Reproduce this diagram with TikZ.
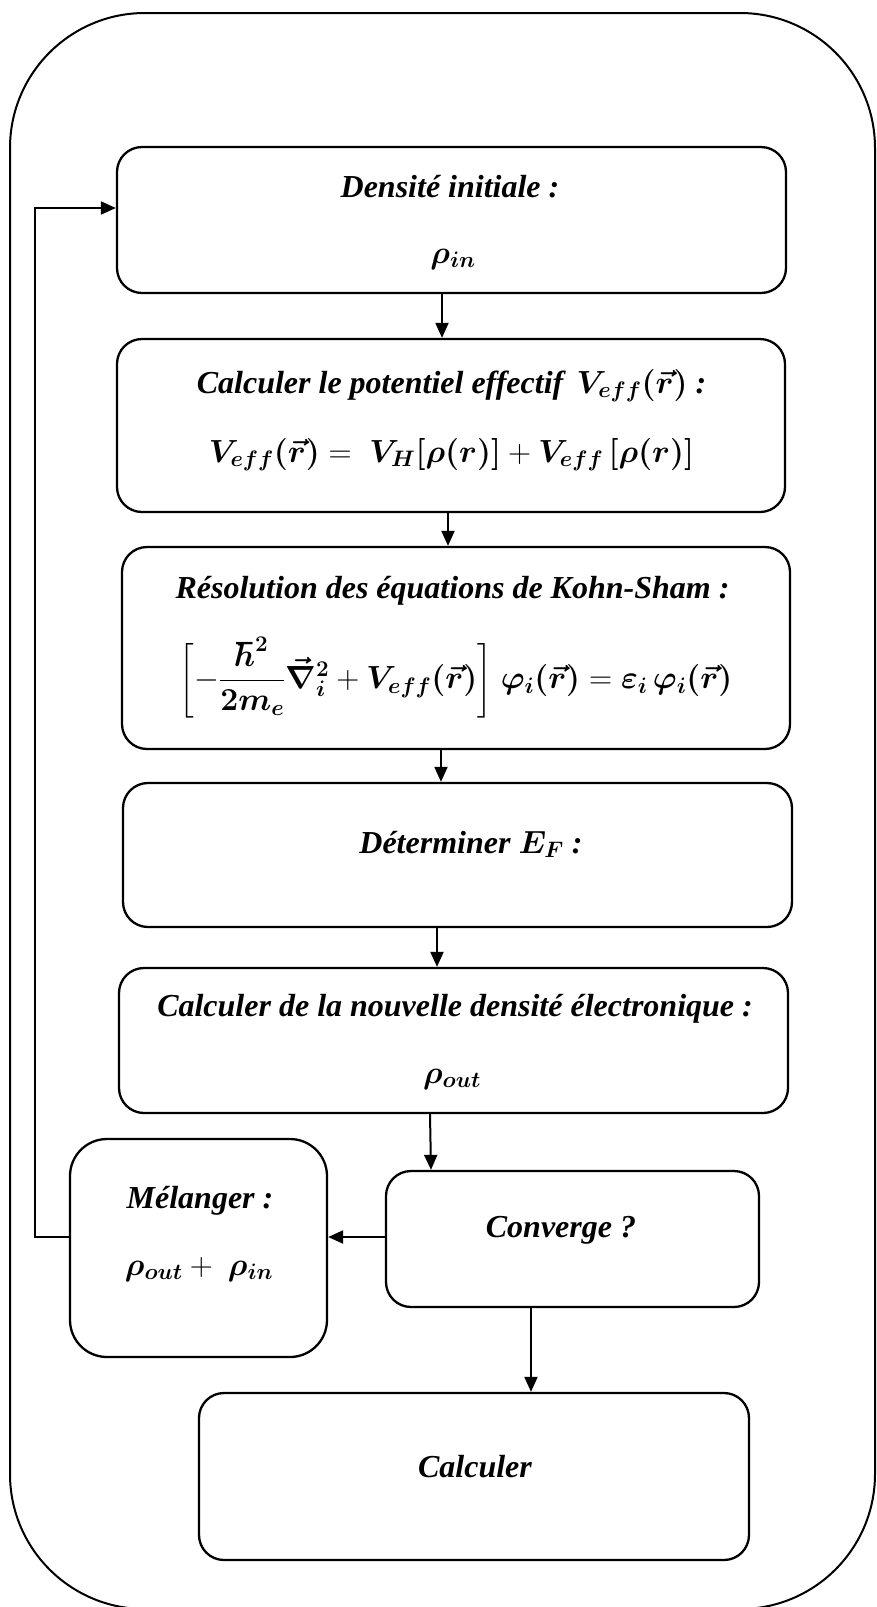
\RequirePackage{fix-cm}
\documentclass[tikz,border=0pt]{standalone}
\usepackage{amsmath}
\usepackage{bm}
\usepackage{fontspec}
\setmainfont{Liberation Serif}
\usetikzlibrary{arrows.meta}
\tikzset{
  box/.style={draw, line width=2.3pt, rounded corners=25pt, inner sep=0pt},
  lbl/.style={anchor=base, inner sep=0pt, font=\fontsize{32}{38}\selectfont\bfseries\itshape},
  arr/.style={line width=2pt, -{Triangle[length=15pt,width=13pt]}},
  frame/.style={draw, line width=2pt, rounded corners=135pt},
}
\begin{document}
\begin{tikzpicture}[x=1pt,y=-1pt]
\useasboundingbox (0,0) rectangle (877,1607);
\draw[frame] (10,13) rectangle (875,1609);

% boxes
\node[box, minimum width=669pt, minimum height=146pt] (b1) at (451.5,220) {};
\node[box, minimum width=668pt, minimum height=173pt] (b2) at (451,425.5) {};
\node[box, minimum width=668pt, minimum height=202pt] (b3) at (456,648) {};
\node[box, minimum width=669pt, minimum height=144pt] (b4) at (457.5,855) {};
\node[box, minimum width=669pt, minimum height=145pt] (b5) at (453.5,1040.5) {};
\node[box, minimum width=373pt, minimum height=136pt] (conv) at (572.5,1239) {};
\node[box, rounded corners=37pt, minimum width=257pt, minimum height=218pt] (mel) at (198.5,1248) {};
\node[box, minimum width=550pt, minimum height=167pt] (calc) at (474,1476.5) {};

% texts
\node[lbl] (t1a) at (450,197) {Densité initiale :};
\node[lbl] (t1b) at (453,263) {$\bm{\rho_{in}}$};
\node[lbl] (t2a) at (451.5,393) {Calculer le potentiel effectif \,$\bm{V_{eff}(\vec{r})}$ :};
\node[lbl] (t2b) at (451.5,462) {$\bm{V_{eff}(\vec{r})} =\; \bm{V_H[\rho(r)]} + \bm{V_{eff}\,[\rho(r)]}$};
\node[lbl] (t3a) at (452.5,598) {Résolution des équations de Kohn-Sham :};
\node[lbl, anchor=center] (t3b) at (456,678) {$\biggl[-\dfrac{\bm{\hbar^2}}{\bm{2m_e}}\bm{\vec{\nabla}_i^2} + \bm{V_{eff}(\vec{r})}\biggr]\;\bm{\varphi_i(\vec{r})} = \bm{\varepsilon_i\,\varphi_i(\vec{r})}$};
\node[lbl] (t4) at (471,853) {Déterminer $\bm{E_F}$ :};
\node[lbl] (t5a) at (455,1016) {Calculer de la nouvelle densité électronique :};
\node[lbl] (t5b) at (452,1083) {$\bm{\rho_{out}}$};
\node[lbl] (tm1) at (200,1208) {Mélanger :};
\node[lbl] (tm2) at (199,1275) {$\bm{\rho_{out}} +\ \bm{\rho_{in}}$};
\node[lbl] (tc) at (561,1237) {Converge ?};
\node[lbl] (tk) at (475,1477) {Calculer};

% connectors
\draw[arr] (b1.south -| 442,0) -- (b2.north -| 442,0);
\draw[arr] (b2.south -| 448,0) -- (b3.north -| 448,0);
\draw[arr] (b3.south -| 441,0) -- (b4.north -| 441,0);
\draw[arr] (b4.south -| 437,0) -- (b5.north -| 437,0);
\draw[arr] (b5.south -| 430,0) -- (conv.north -| 431,0);
\draw[arr] (conv.west |- 0,1237) -- (mel.east |- 0,1237);
\coordinate (lp1) at (35,1237);
\coordinate (lp2) at (35,208);
\draw[arr] (mel.west |- 0,1237) -- (lp1) -- (lp2) -- (b1.west |- 0,208);
\draw[arr] (conv.south -| 531,0) -- (calc.north -| 531,0);
\end{tikzpicture}
\end{document}
